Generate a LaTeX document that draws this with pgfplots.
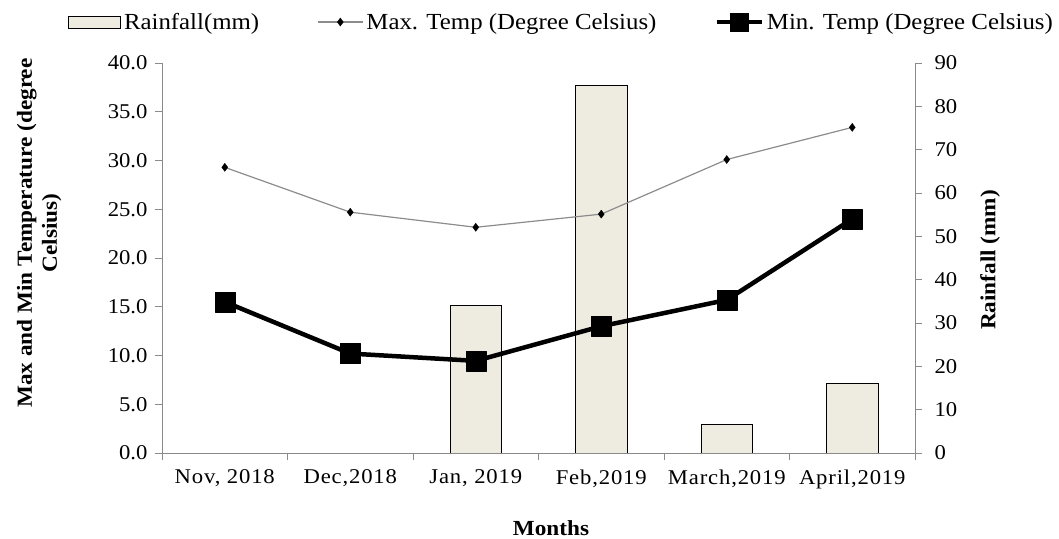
\documentclass[border=0pt]{standalone}
\usepackage{fontspec}
\setmainfont{Liberation Serif}[FakeStretch=1.08]
\usepackage{pgfplots}
\pgfplotsset{compat=1.18}
\definecolor{barfill}{HTML}{EEECE1}
\definecolor{axgray}{HTML}{8A8A8A}
\definecolor{maxgray}{HTML}{8C8C8C}
\begin{document}
\begin{tikzpicture}
\useasboundingbox (0pt,0pt) rectangle (1059pt,-538pt);
\pgfplotsset{
  common/.style={
    at={(162pt,-453pt)}, anchor=south west,
    scale only axis, width=753pt, height=390pt,
    xmin=-0.5, xmax=5.5,
    tick align=outside,
    major tick length=7pt,
    tick style={axgray, line width=1pt},
    axis line style={axgray, line width=1pt},
    tick label style={font=\fontsize{21}{25}\selectfont, black},
    label style={font=\fontsize{21.5}{25}\selectfont\bfseries},
    /pgf/number format/assume math mode=true,
  }
}
% Rainfall (right axis)
\begin{axis}[common,
  ymin=0, ymax=90, ytick={0,10,...,90},
  axis y line*=right, axis x line=none,
  yticklabel style={xshift=9pt},
  ylabel={Rainfall (mm)},
  ylabel style={at={(axis description cs:1.0996,0.495)}, anchor=center, rotate=0},
  ybar, bar width=51.5pt,
]
\addplot[draw=black, line width=0.9pt, fill=barfill] coordinates {
  (0,0) (1,0) (2,34.0) (3,84.9) (4,6.6) (5,16.0)};
\end{axis}
% Temperatures (left axis)
\begin{axis}[common,
  ymin=0, ymax=40, ytick={0,5,...,40},
  axis y line*=left, axis x line*=bottom,
  yticklabel style={xshift=-4pt, /pgf/number format/.cd, fixed, fixed zerofill, precision=1},
  xtick={-0.5,0.5,...,5.5}, xticklabels={},
  extra x ticks={0,1,2,3,4,5},
  extra x tick labels={{Nov, 2018},{Dec,2018},{Jan, 2019},{Feb,2019},{March,2019},{April,2019}},
  extra x tick style={major tick length=0pt, tick style={draw=none}},
  xticklabel style={yshift=-13pt, font=\fontsize{21}{25}\selectfont\addfontfeature{LetterSpace=4}},
  ylabel={Max and Min Temperature (degree\\Celsius)},
  ylabel style={at={(axis description cs:-0.1630,0.564)}, anchor=center, align=center},
  xlabel={Months},
  xlabel style={at={(axis description cs:0.5166,-0.192)}, anchor=center},
  legend columns=3,
  legend style={at={(axis description cs:-0.1248,1.105)}, anchor=west, draw=none,
    fill=none, inner sep=0pt, font=\fontsize{23}{27}\selectfont,
    nodes={inner sep=3pt},
    /tikz/every even column/.append style={column sep=55pt}},
]
\addlegendimage{legend image code/.code={\draw[black, line width=0.8pt, fill=barfill] (0pt,-6pt) rectangle (52pt,6pt);}}
\addlegendimage{legend image code/.code={\draw[maxgray, line width=1.2pt, mark repeat=2, mark phase=2, mark=diamond*, mark size=4pt, mark options={fill=black, draw=black, line width=0.4pt}] plot coordinates {(0pt,0pt) (22.5pt,0pt) (45pt,0pt)};}}
\addlegendimage{legend image code/.code={\draw[black, line width=4.5pt, mark repeat=2, mark phase=2, mark=square*, mark size=9pt, mark options={fill=black, draw=black, line width=0.4pt}] plot coordinates {(0pt,0pt) (22.5pt,0pt) (45pt,0pt)};}}
\addplot[maxgray, line width=1.2pt, mark=diamond*, mark size=4pt,
  mark options={fill=black, draw=black, line width=0.4pt}] coordinates {
  (0,29.3) (1,24.7) (2,23.15) (3,24.5) (4,30.1) (5,33.4)};
\addplot[black, line width=4.5pt, line join=round, mark=square*, mark size=10pt,
  mark options={fill=black, draw=black, line width=0.4pt}] coordinates {
  (0,15.5) (1,10.2) (2,9.45) (3,13.0) (4,15.7) (5,24.0)};
\legend{Rainfall(mm), Max. Temp (Degree Celsius), Min. Temp (Degree Celsius)}
\end{axis}
\end{tikzpicture}
\end{document}
